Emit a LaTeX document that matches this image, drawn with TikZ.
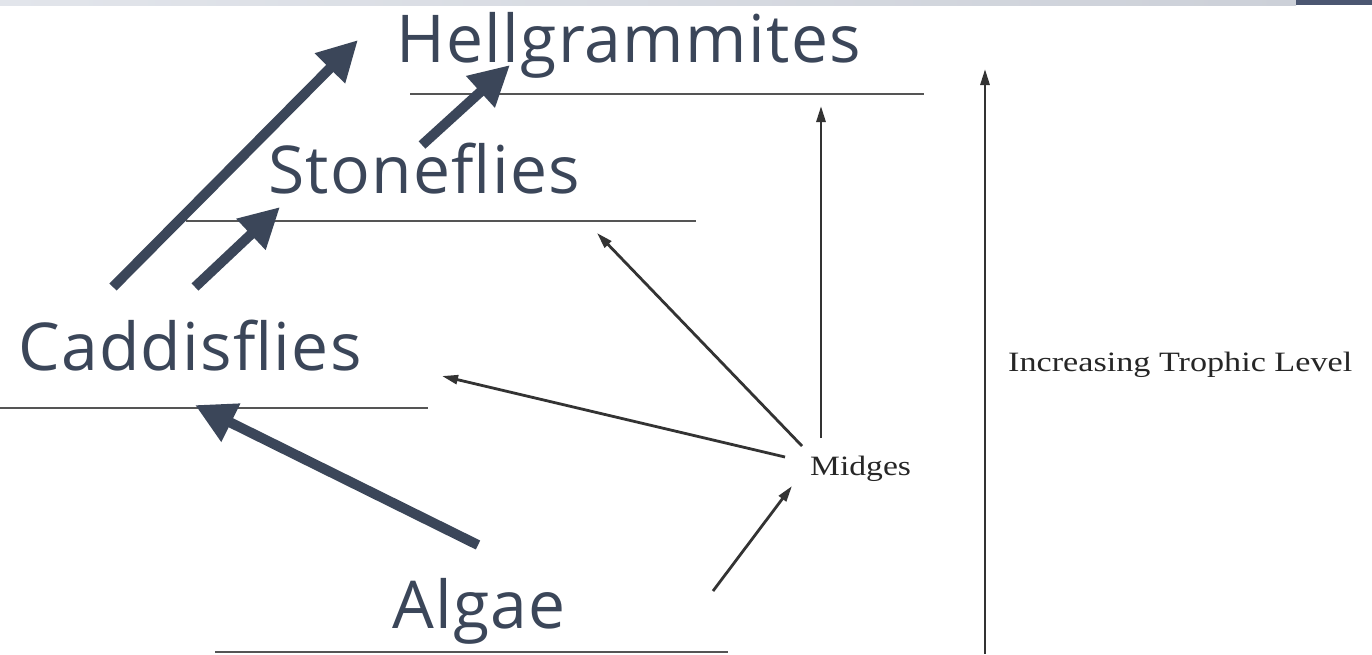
\documentclass[tikz,border=0pt]{standalone}
\usepackage{fontspec}
\setmainfont{Liberation Serif}
\newfontfamily\handfont{Open Sans}
\usetikzlibrary{arrows.meta}
\definecolor{slate}{HTML}{3B4659}
\definecolor{bandL}{HTML}{E2E5EB}
\definecolor{bandR}{HTML}{CCD0D8}
\definecolor{bandDark}{HTML}{4B5671}
\definecolor{levelgray}{HTML}{555555}
\tikzset{
  level/.style={draw=levelgray, line width=2.6pt},
  thick arrow/.style={draw=slate, line width=10pt, -{Triangle[length=40pt,width=40pt]}},
  thin arrow/.style={draw=black!80, line width=2.8pt, -{Triangle[length=16pt,width=9pt]}},
  hand/.style={text=slate, font=\handfont\fontsize{66}{66}\selectfont\addfontfeature{LetterSpace=2}, inner sep=0pt, anchor=base west},
  serif/.style={text=black!85, inner sep=0pt, anchor=base west}
}
\begin{document}
\begin{tikzpicture}[x=1pt,y=-1pt]
\useasboundingbox (0,0) rectangle (1372,654);
\fill[white] (0,0) rectangle (1372,654);
% top band
\shade[left color=bandL, right color=bandR] (0,0) rectangle (1296,5);
\fill[bandDark] (1296,0) rectangle (1372,5);
% level lines
\draw[level] (410,94) -- (924,94);
\draw[level] (186,221) -- (696,221);
\draw[level] (0,408) -- (428,408);
\draw[level] (215,652) -- (728,652);
% labels
\node[hand] (hell) at (396,62) {Hellgrammites};
\node[hand] (stone) at (268,193) {Stoneflies};
\node[hand] (cadd) at (18,370) {Caddisflies};
\node[hand] (algae) at (392,628) {Algae};
\node[serif] (midges) at (810,475) {\scalebox{1.2}[1]{\fontsize{28}{28}\selectfont Midges}};
\node[serif] (trophic) at (1008,371) {\scalebox{1.22}[1]{\fontsize{28}{28}\selectfont Increasing Trophic Level}};
% coordinates
\coordinate (c1s) at (113,287); \coordinate (c1e) at (358,40);
\coordinate (c2s) at (195,287); \coordinate (c2e) at (280,207);
\coordinate (s1s) at (422,145); \coordinate (s1e) at (510,65);
\coordinate (a1s) at (478,545); \coordinate (a1e) at (195,405);
\coordinate (m1s) at (802,446); \coordinate (m1e) at (597,233);
\coordinate (m2s) at (785,457); \coordinate (m2e) at (442,376);
\coordinate (m3s) at (821,438); \coordinate (m3e) at (821,106);
\coordinate (m4s) at (713,591); \coordinate (m4e) at (792,486);
\coordinate (tls) at (985,654); \coordinate (tle) at (985,69);
% thick arrows
\draw[thick arrow] (c1s) -- (c1e);
\draw[thick arrow] (c2s) -- (c2e);
\draw[thick arrow] (s1s) -- (s1e);
\draw[thick arrow] (a1s) -- (a1e);
% thin arrows
\draw[thin arrow] (m1s) -- (m1e);
\draw[thin arrow] (m2s) -- (m2e);
\draw[thin arrow] (m3s) -- (m3e);
\draw[thin arrow] (m4s) -- (m4e);
\draw[thin arrow] (tls) -- (tle);
\end{tikzpicture}
\end{document}
